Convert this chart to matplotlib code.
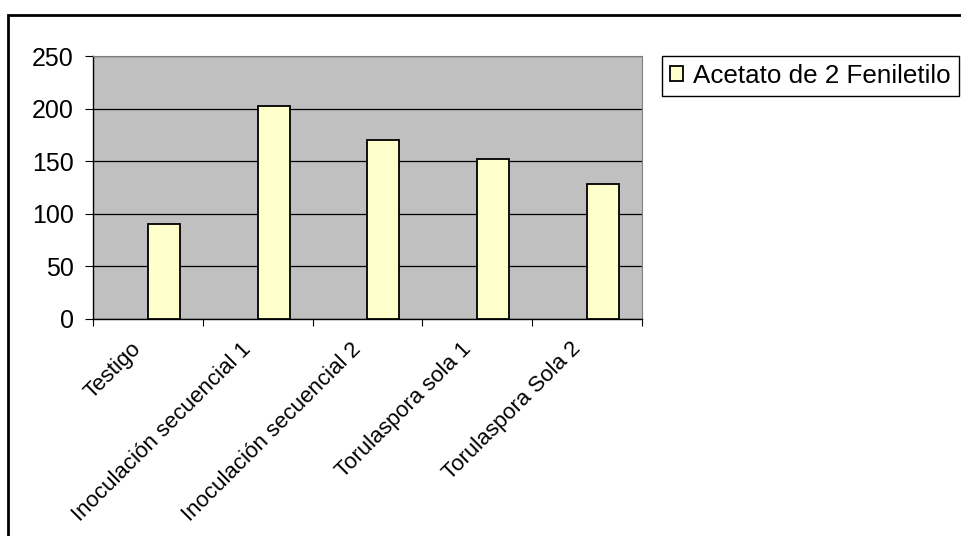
import numpy as np
import matplotlib.pyplot as plt
import matplotlib.transforms as mtransforms
from matplotlib.patches import Rectangle

plt.rcParams['font.family'] = ['Liberation Sans', 'DejaVu Sans']

# datos
categorias = ['Testigo', 'Inoculación secuencial 1', 'Inoculación secuencial 2',
              'Torulaspora sola 1', 'Torulaspora Sola 2']
valores = [90, 202, 170, 152, 128]
serie = 'Acetato de 2 Feniletilo'
yticks = [0, 50, 100, 150, 200, 250]

fig = plt.figure(figsize=(9.62, 5.36), dpi=100)
fig.patch.set_facecolor('white')
ax = fig.add_axes([93/962, 1-319/536, 549/962, 263/536])
ax.set_facecolor('#C0C0C0')

x = np.arange(len(categorias))
barras = ax.bar(x + 0.5, valores, width=0.29, align='edge', color='#FFFFCC',
                edgecolor='black', linewidth=1.3, zorder=3, label=serie)

ax.set_xlim(0, len(categorias))
ax.set_ylim(0, 250)
ax.set_yticks(yticks)
ax.set_yticklabels([str(v) for v in yticks], fontsize=18)
ax.yaxis.grid(True, color='black', linewidth=0.9, zorder=1)
ax.set_axisbelow(True)

# ticks en los limites de categoria
ax.set_xticks(np.arange(len(categorias) + 1))
ax.set_xticklabels([])
ax.set_xticks(x + 0.5, minor=True)
ax.set_xticklabels(categorias, minor=True, rotation=45, ha='right', va='top',
                   rotation_mode='anchor', fontsize=16)
ax.tick_params(axis='x', which='minor', length=0, pad=14)
ax.tick_params(axis='x', which='major', length=5, direction='out', color='black')
ax.tick_params(axis='y', length=6, direction='out', pad=8)

desplaza = mtransforms.ScaledTranslation(-17/100, 0, fig.dpi_scale_trans)
for t in ax.xaxis.get_minorticklabels():
    t.set_transform(t.get_transform() + desplaza)

for s in ['top', 'right']:
    ax.spines[s].set_color('#808080')
for s in ['left', 'bottom']:
    ax.spines[s].set_color('black')
    ax.spines[s].set_linewidth(1.0)

leg = fig.legend(handles=[barras], labels=[serie], loc='upper left',
                 bbox_to_anchor=(662/962, 1-56/536), fontsize=18.7, frameon=True,
                 fancybox=False, edgecolor='black', framealpha=1,
                 handlelength=0.5, handleheight=0.5, handletextpad=0.4,
                 borderpad=0.3, borderaxespad=0)
leg.get_frame().set_linewidth(1.0)

# marco exterior
fig.patches.append(Rectangle((8/962, -0.1), 1.2, 1-15/536+0.1, transform=fig.transFigure,
                             fill=False, edgecolor='black', linewidth=2, clip_on=False))

fig.savefig('out.png', dpi=100)
